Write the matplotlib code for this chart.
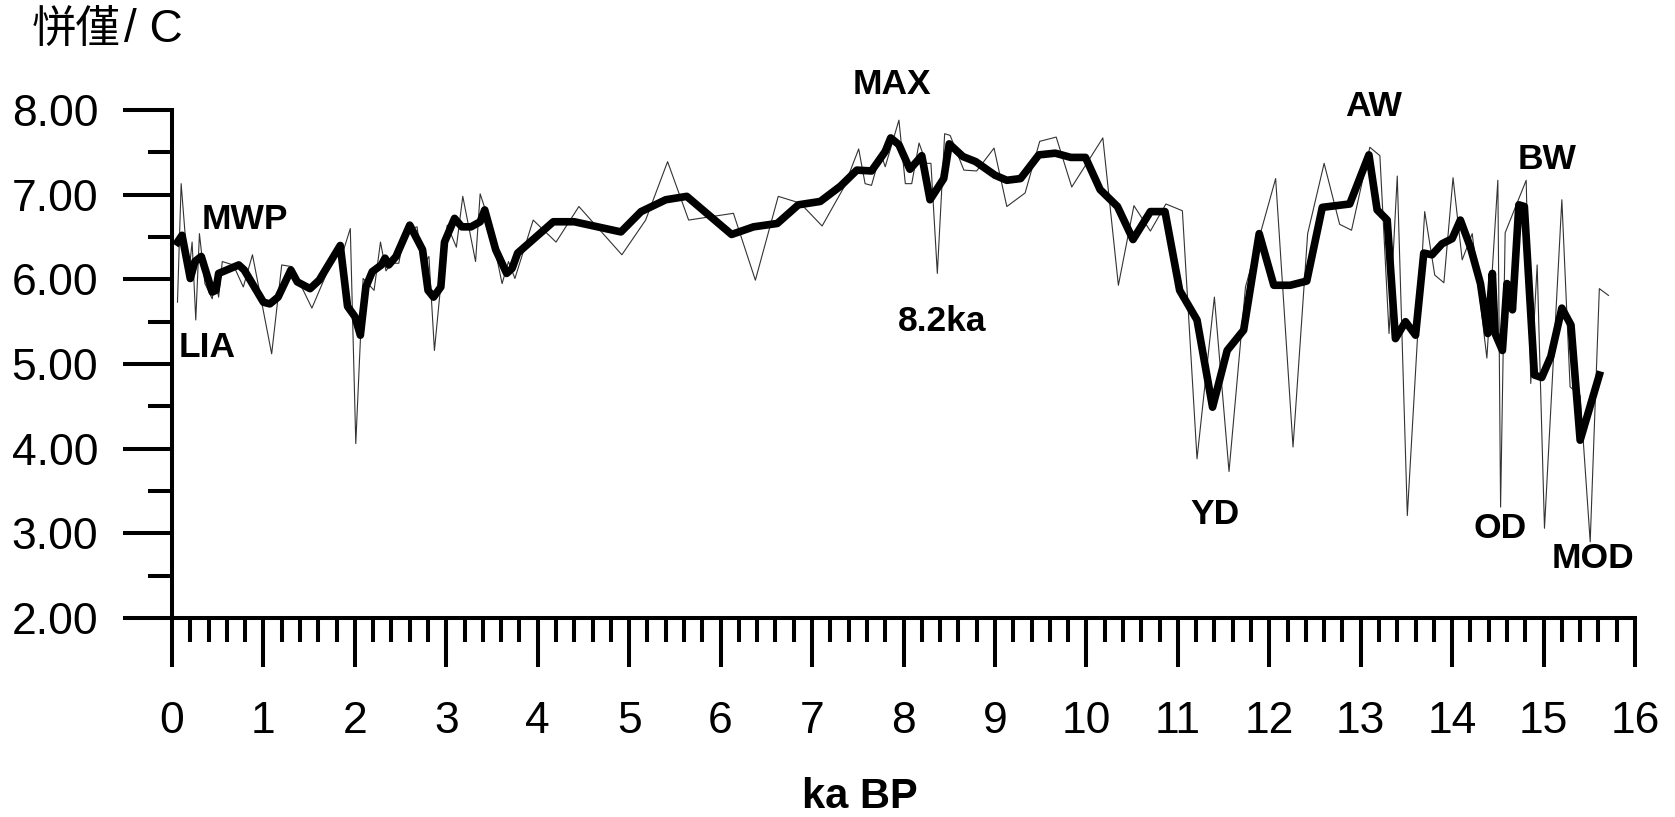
import matplotlib
matplotlib.use("Agg")
import matplotlib.pyplot as plt
from matplotlib.ticker import MultipleLocator, FormatStrFormatter

# 1. DATA
ka_raw = [0.06, 0.10, 0.18, 0.22, 0.26, 0.30, 0.36, 0.44, 0.47, 0.51, 0.55, 0.67, 0.78, 0.88,
          1.09, 1.20, 1.31, 1.53, 1.77, 1.86, 1.95, 2.01, 2.09, 2.21, 2.28, 2.34, 2.40, 2.48,
          2.55, 2.68, 2.74, 2.81, 2.87, 2.93, 3.01, 3.11, 3.18, 3.32, 3.37, 3.47, 3.61, 3.68,
          3.75, 3.95, 4.20, 4.45, 4.92, 5.18, 5.42, 5.65, 6.14, 6.38, 6.63, 6.87, 7.11, 7.35,
          7.51, 7.58, 7.65, 7.75, 7.80, 7.95, 8.02, 8.09, 8.17, 8.25, 8.30, 8.37, 8.45, 8.51,
          8.66, 8.80, 8.99, 9.13, 9.33, 9.49, 9.67, 9.84, 10.18, 10.35, 10.52, 10.70, 10.87,
          11.05, 11.21, 11.40, 11.56, 11.74, 12.07, 12.26, 12.42, 12.60, 12.77, 12.90, 13.10,
          13.21, 13.31, 13.40, 13.51, 13.70, 13.81, 13.91, 14.01, 14.11, 14.22, 14.38, 14.50,
          14.53, 14.58, 14.81, 14.86, 14.93, 15.01, 15.20, 15.29, 15.40, 15.51, 15.61, 15.71]
temp_raw = [5.73, 7.13, 6.03, 6.44, 5.52, 6.54, 5.95, 5.77, 6.01, 5.79, 6.21, 6.17, 5.91, 6.29,
            5.12, 6.17, 6.15, 5.66, 6.27, 6.29, 6.60, 4.06, 6.01, 5.87, 6.44, 6.10, 6.19, 6.19,
            6.58, 6.62, 6.15, 6.27, 5.16, 5.83, 6.64, 6.38, 6.98, 6.21, 7.01, 6.68, 5.95, 6.21,
            6.01, 6.70, 6.44, 6.86, 6.29, 6.70, 7.39, 6.70, 6.78, 5.99, 6.98, 6.90, 6.63, 7.09,
            7.54, 7.13, 7.11, 7.49, 7.33, 7.88, 7.13, 7.13, 7.61, 7.37, 7.37, 6.07, 7.72, 7.70,
            7.29, 7.28, 7.55, 6.86, 7.02, 7.63, 7.68, 7.09, 7.67, 5.93, 6.87, 6.57, 6.89,
            6.81, 3.88, 5.79, 3.73, 5.91, 7.19, 4.02, 6.54, 7.37, 6.65, 6.58, 7.56,
            7.46, 5.36, 7.22, 3.21, 6.80, 6.05, 5.96, 7.20, 6.23, 6.54, 5.07, 7.17,
            3.31, 6.55, 7.17, 4.77, 6.17, 3.06, 6.94, 4.73, 4.63, 2.90, 5.89, 5.81]

ka_smooth = [0.06, 0.11, 0.20, 0.25, 0.32, 0.44, 0.48, 0.51, 0.73, 0.79, 1.00, 1.07, 1.16, 1.30,
             1.37, 1.51, 1.61, 1.84, 1.92, 2.00, 2.06, 2.12, 2.19, 2.29, 2.33, 2.37, 2.45, 2.60,
             2.74, 2.80, 2.86, 2.94, 2.98, 3.09, 3.17, 3.27, 3.37, 3.42, 3.54, 3.66, 3.72, 3.78,
             4.17, 4.40, 4.91, 5.13, 5.40, 5.63, 6.12, 6.36, 6.62, 6.85, 7.09, 7.31, 7.49, 7.65,
             7.80, 7.86, 7.95, 8.07, 8.20, 8.29, 8.44, 8.50, 8.65, 8.79, 9.00, 9.13, 9.28, 9.48,
             9.66, 9.83, 9.99, 10.15, 10.34, 10.51, 10.70, 10.86, 11.02, 11.21, 11.38, 11.54,
             11.72, 11.89, 12.05, 12.23, 12.41, 12.58, 12.88, 13.09, 13.18, 13.29, 13.38, 13.49,
             13.60, 13.69, 13.78, 13.89, 14.00, 14.09, 14.20, 14.31, 14.39, 14.44, 14.47, 14.55,
             14.60, 14.66, 14.73, 14.79, 14.90, 14.98, 15.08, 15.20, 15.30, 15.40, 15.61]
temp_smooth = [6.44, 6.52, 6.01, 6.21, 6.27, 5.85, 5.87, 6.07, 6.17, 6.11, 5.73, 5.71, 5.79, 6.11,
               5.97, 5.89, 5.99, 6.40, 5.68, 5.56, 5.34, 5.91, 6.09, 6.17, 6.25, 6.17, 6.27, 6.64,
               6.35, 5.87, 5.79, 5.91, 6.44, 6.72, 6.62, 6.62, 6.68, 6.82, 6.35, 6.07, 6.13, 6.31,
               6.68, 6.68, 6.56, 6.80, 6.94, 6.98, 6.53, 6.62, 6.66, 6.88, 6.92, 7.10, 7.29, 7.28,
               7.51, 7.67, 7.59, 7.30, 7.46, 6.94, 7.19, 7.60, 7.45, 7.39, 7.23, 7.17, 7.19, 7.47,
               7.49, 7.44, 7.44, 7.06, 6.86, 6.47, 6.80, 6.80, 5.87, 5.52, 4.49, 5.16,
               5.40, 6.54, 5.93, 5.93, 5.98, 6.85, 6.89, 7.47, 6.82, 6.70, 5.30, 5.50,
               5.34, 6.31, 6.29, 6.42, 6.48, 6.70, 6.38, 5.95, 5.36, 6.07, 5.36, 5.16,
               5.95, 5.64, 6.88, 6.86, 4.87, 4.84, 5.09, 5.66, 5.46, 4.10, 4.87]

event_names = ["LIA", "MWP", "MAX", "8.2ka", "YD", "AW", "OD", "BW", "MOD"]
event_ka = [0.38, 0.80, 7.87, 8.42, 11.41, 13.14, 14.53, 15.04, 15.54]
event_temp = [5.20, 6.71, 8.30, 5.50, 3.22, 8.04, 3.06, 7.42, 2.70]

# 2. FIGURE
plt.rcParams['font.family'] = ['Liberation Sans', 'DejaVu Sans']
fig = plt.figure(figsize=(16.75, 8.17), dpi=100)
ax = fig.add_axes([172 / 1675, 1 - 618 / 817, (1635 - 172) / 1675, (618 - 110) / 817])

ax.plot(ka_raw, temp_raw, color='#333333', lw=0.8)
ax.plot(ka_smooth, temp_smooth, color='black', lw=5.5, solid_joinstyle='round')

for name, x, y in zip(event_names, event_ka, event_temp):
    ax.text(x, y, name, fontsize=25.5, fontweight='bold', ha='center', va='center')

ax.set_xlim(0, 16)
ax.set_ylim(2, 8)
for side in ['top', 'right']:
    ax.spines[side].set_visible(False)
for side in ['left', 'bottom']:
    ax.spines[side].set_linewidth(2.9)

ax.xaxis.set_major_locator(MultipleLocator(1))
ax.xaxis.set_minor_locator(MultipleLocator(0.2))
ax.yaxis.set_major_locator(MultipleLocator(1))
ax.yaxis.set_minor_locator(MultipleLocator(0.5))
ax.yaxis.set_major_formatter(FormatStrFormatter('%.2f'))

ax.tick_params(axis='both', which='major', direction='out', length=35, width=2.9, labelsize=32)
ax.tick_params(axis='both', which='minor', direction='out', length=17, width=2.9)
ax.tick_params(axis='x', which='major', pad=25)
ax.tick_params(axis='y', which='major', pad=18)

fig.text(860 / 1675, 1 - 797 / 817, "ka BP", fontsize=30, fontweight='bold',
         ha='center', va='center')
fig.text(32 / 1675, 1 - 30 / 817, "恲僅", fontsize=32, family=['Noto Sans CJK SC', 'DejaVu Sans'],
         ha='left', va='center')
fig.text(124 / 1675, 1 - 30 / 817, "/ C", fontsize=33, ha='left', va='center')

fig.savefig("out.png", dpi=100)
